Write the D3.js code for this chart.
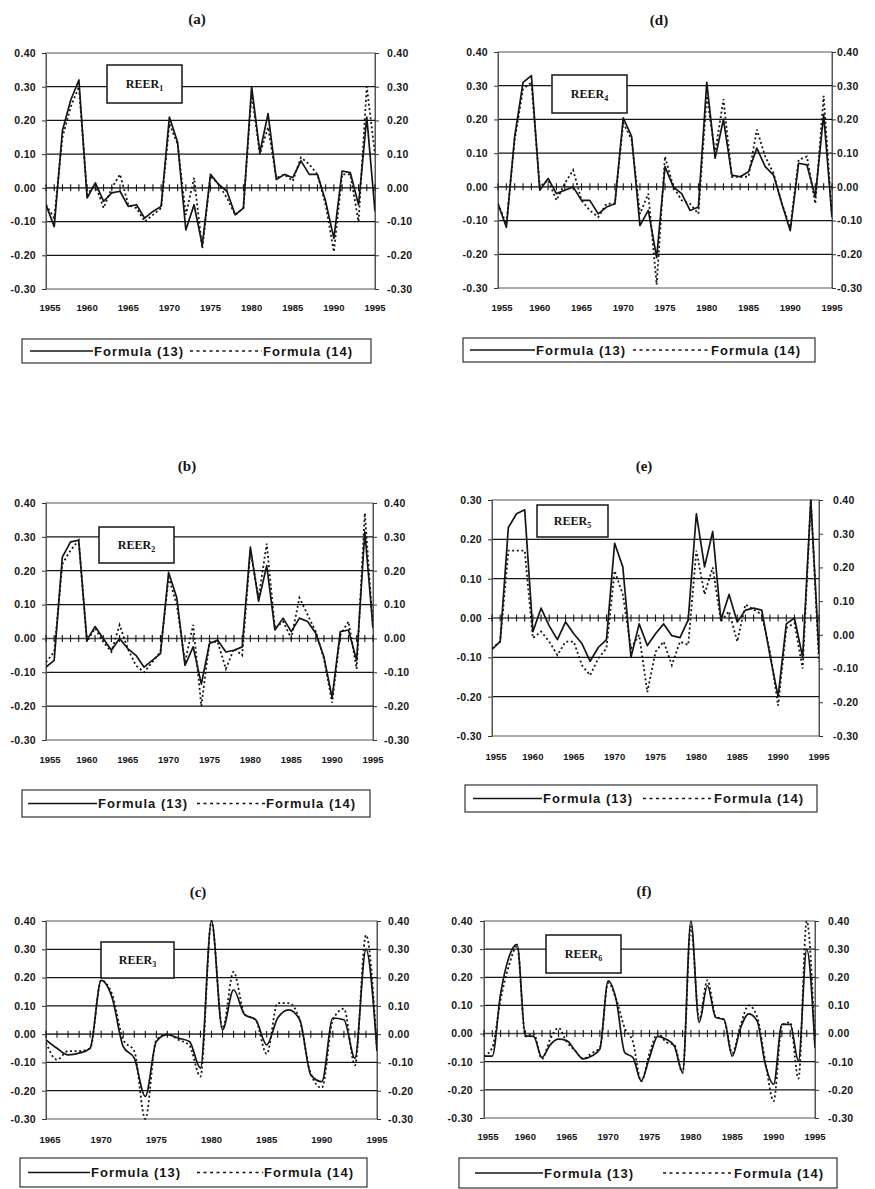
<!DOCTYPE html>
<html><head><meta charset="utf-8">
<script src="https://cdn.jsdelivr.net/npm/d3@7"></script>
<style>
html,body{margin:0;padding:0;background:#fff;}
svg{display:block;}
</style></head>
<body>
<svg id="chart" width="875" height="1189"></svg>
<script>
// ---------- DATA ----------
const years = [1955,1956,1957,1958,1959,1960,1961,1962,1963,1964,1965,1966,1967,1968,1969,1970,1971,1972,1973,1974,1975,1976,1977,1978,1979,1980,1981,1982,1983,1984,1985,1986,1987,1988,1989,1990,1991,1992,1993,1994,1995];
const yearsC = [1965,1966,1967,1968,1969,1970,1971,1972,1973,1974,1975,1976,1977,1978,1979,1980,1981,1982,1983,1984,1985,1986,1987,1988,1989,1990,1991,1992,1993,1994,1995];
const xTickYears = [1955,1960,1965,1970,1975,1980,1985,1990,1995];
const xTickYearsC = [1965,1970,1975,1980,1985,1990,1995];

const yTicks = [-0.3,-0.2,-0.1,0,0.1,0.2,0.3,0.4];
const yTickLabels = ["-0.30","-0.20","-0.10","0.00","0.10","0.20","0.30","0.40"];
const yTicksE = [-0.3,-0.2,-0.1,0,0.1,0.2,0.3];
const yTickLabelsE = ["-0.30","-0.20","-0.10","0.00","0.10","0.20","0.30"];

const a13 = [-0.05,-0.115,0.17,0.26,0.32,-0.03,0.015,-0.04,-0.015,-0.01,-0.055,-0.05,-0.09,-0.07,-0.055,0.21,0.135,-0.125,-0.05,-0.17,0.04,0.01,-0.01,-0.08,-0.06,0.30,0.105,0.22,0.025,0.04,0.03,0.08,0.04,0.04,-0.04,-0.15,0.05,0.045,-0.05,0.21,-0.07];
const a14 = [-0.05,-0.09,0.15,0.24,0.30,-0.02,0.01,-0.06,0.0,0.04,-0.05,-0.06,-0.10,-0.08,-0.06,0.19,0.13,-0.08,0.03,-0.18,0.035,0.01,-0.03,-0.08,-0.06,0.28,0.10,0.18,0.03,0.04,0.02,0.09,0.07,0.04,-0.05,-0.19,0.04,0.04,-0.10,0.30,0.10];
const b13 = [-0.085,-0.065,0.24,0.285,0.29,-0.005,0.035,0.0,-0.035,0.0,-0.03,-0.05,-0.085,-0.065,-0.045,0.195,0.12,-0.08,-0.025,-0.135,-0.015,-0.005,-0.04,-0.035,-0.025,0.27,0.11,0.215,0.025,0.06,0.02,0.06,0.05,0.015,-0.055,-0.175,0.02,0.025,-0.065,0.315,0.03];
const b14 = [-0.07,-0.04,0.22,0.26,0.29,-0.01,0.03,-0.01,-0.04,0.04,-0.03,-0.08,-0.10,-0.07,-0.04,0.18,0.10,-0.07,0.04,-0.20,-0.01,-0.01,-0.09,-0.03,-0.05,0.26,0.12,0.28,0.03,0.05,0.0,0.12,0.07,0.02,-0.06,-0.19,0.01,0.05,-0.09,0.37,0.03];
const c13 = [-0.02,-0.05,-0.073,-0.067,-0.05,0.19,0.128,-0.044,-0.085,-0.22,-0.026,-0.002,-0.014,-0.026,-0.12,0.40,0.015,0.157,0.069,0.051,-0.038,0.057,0.086,0.051,-0.144,-0.168,0.057,0.051,-0.085,0.30,-0.06];
const c14 = [-0.03,-0.09,-0.06,-0.06,-0.05,0.19,0.14,-0.02,-0.06,-0.30,-0.02,0.0,-0.02,-0.04,-0.15,0.40,0.02,0.22,0.07,0.05,-0.07,0.11,0.11,0.05,-0.14,-0.19,0.05,0.09,-0.11,0.35,-0.06];
const d13 = [-0.05,-0.12,0.15,0.31,0.33,-0.01,0.025,-0.02,-0.01,0.0,-0.04,-0.04,-0.08,-0.06,-0.05,0.205,0.15,-0.115,-0.07,-0.21,0.06,0.0,-0.02,-0.07,-0.06,0.31,0.085,0.20,0.035,0.03,0.045,0.115,0.06,0.035,-0.05,-0.13,0.07,0.065,-0.03,0.215,-0.09];
const d14 = [-0.05,-0.11,0.14,0.29,0.31,0.0,0.02,-0.04,0.01,0.05,-0.04,-0.07,-0.09,-0.05,-0.05,0.19,0.14,-0.08,-0.02,-0.29,0.09,0.0,-0.04,-0.05,-0.08,0.27,0.10,0.26,0.03,0.03,0.03,0.17,0.09,0.04,-0.05,-0.12,0.08,0.09,-0.05,0.27,-0.09];
const e13 = [-0.08,-0.06,0.23,0.265,0.275,-0.035,0.025,-0.02,-0.055,-0.01,-0.04,-0.065,-0.11,-0.075,-0.055,0.19,0.13,-0.10,-0.015,-0.07,-0.04,-0.015,-0.045,-0.05,-0.005,0.265,0.13,0.22,-0.005,0.06,-0.01,0.02,0.025,0.02,-0.095,-0.20,-0.015,0.0,-0.10,0.30,-0.09];
const e14 = [-0.04,-0.02,0.25,0.25,0.25,-0.01,0.01,-0.02,-0.06,-0.02,-0.02,-0.09,-0.12,-0.07,-0.04,0.19,0.12,-0.04,0.0,-0.17,-0.05,-0.02,-0.09,-0.02,-0.03,0.25,0.12,0.20,0.04,0.07,-0.02,0.09,0.075,0.06,-0.05,-0.21,0.02,0.035,-0.10,0.40,-0.08];
const f13 = [-0.08,-0.08,0.14,0.27,0.317,-0.008,-0.01,-0.085,-0.04,-0.02,-0.025,-0.06,-0.09,-0.08,-0.055,0.187,0.116,-0.067,-0.085,-0.168,-0.085,-0.01,-0.02,-0.044,-0.138,0.40,0.04,0.17,0.057,0.05,-0.08,0.02,0.07,0.045,-0.11,-0.18,0.033,0.033,-0.097,0.30,-0.05];
const f14 = [-0.08,-0.05,0.12,0.24,0.31,-0.01,0.0,-0.09,-0.02,0.02,-0.03,-0.06,-0.09,-0.07,-0.05,0.18,0.12,0.02,-0.03,-0.17,-0.07,0.0,-0.03,-0.04,-0.14,0.38,0.05,0.19,0.06,0.05,-0.07,0.03,0.10,0.06,-0.10,-0.24,0.03,0.04,-0.16,0.40,-0.05];

const legendNames = ["Formula (13)","Formula (14)"];

// ---------- LAYOUT ----------
const panels = [
  {title:"(a)", tx:197, ty:24, x0:46, x1:375, y0:53, y1:289, lab:"REER", sub:"1", box:[107,65,182,103],
   lx:36, rx:387, xly:311, leg:[22,339,371,363, 30,93, 190,262], yrs:years, xt:xTickYears, s13:a13, s14:a14},
  {title:"(d)", tx:659, ty:25, x0:498, x1:832, y0:52, y1:288, lab:"REER", sub:"4", box:[552,75,627,113],
   lx:488, rx:837, xly:311, leg:[463,338,815,362, 470,535, 633,710], yrs:years, xt:xTickYears, s13:d13, s14:d14},
  {title:"(b)", tx:187, ty:471, x0:46, x1:373, y0:503, y1:740, lab:"REER", sub:"2", box:[99,527,174,563],
   lx:36, rx:384, xly:763, leg:[22,790,370,817, 28,97, 197,265], yrs:years, xt:xTickYears, s13:b13, s14:b14},
  {title:"(e)", tx:644, ty:471, x0:492, x1:819, y0:500, y1:736, lab:"REER", sub:"5", box:[537,505,608,537],
   lx:482, rx:833, xly:760, leg:[465,785,817,812, 473,542, 643,713], yrs:years, xt:xTickYears, s13:e13, s14:e14, split:true},
  {title:"(c)", tx:198, ty:897, x0:46, x1:377, y0:921, y1:1119, lab:"REER", sub:"3", box:[101,942,174,978],
   lx:36, rx:388, xly:1143, leg:[20,1158,367,1187, 28,90, 197,263], yrs:yearsC, xt:xTickYearsC, s13:c13, s14:c14, smooth:true},
  {title:"(f)", tx:644, ty:896, x0:484, x1:815, y0:921, y1:1118, lab:"REER", sub:"6", box:[546,935,621,973],
   lx:473, rx:828, xly:1140, leg:[459,1158,837,1188, 475,543, 663,733], yrs:years, xt:xTickYears, s13:f13, s14:f14, smooth:true}
];

const svg = d3.select("#chart");
const INK = "#151515";
const SANS = "'Liberation Sans', Arial, sans-serif";
const SERIF = "'Liberation Serif', 'Times New Roman', serif";

panels.forEach((p, pi) => {
  const g = svg.append("g");
  const x = d3.scaleLinear().domain([p.yrs[0], p.yrs[p.yrs.length-1]]).range([p.x0, p.x1]);
  const leftTicks = p.split ? yTicksE : yTicks;
  const leftLabels = p.split ? yTickLabelsE : yTickLabels;
  const yL = d3.scaleLinear().domain([leftTicks[0], leftTicks[leftTicks.length-1]]).range([p.y1, p.y0]);
  const yR = d3.scaleLinear().domain([yTicks[0], yTicks[yTicks.length-1]]).range([p.y1, p.y0]);

  // title
  g.append("text").attr("x", p.tx).attr("y", p.ty).attr("text-anchor","middle")
    .attr("font-family", SERIF).attr("font-weight","bold").attr("font-size", 15).attr("fill", INK)
    .text(p.title);

  // plot border
  g.append("rect").attr("x", p.x0).attr("y", p.y0).attr("width", p.x1-p.x0).attr("height", p.y1-p.y0)
    .attr("fill","none").attr("stroke","#555").attr("stroke-width",1);

  // gridlines (left scale, interior)
  g.selectAll(".grid").data(leftTicks.filter((t,i)=> i>0 && i<leftTicks.length-1 && t!==0)).enter()
    .append("line").attr("x1", p.x0).attr("x2", p.x1)
    .attr("y1", d=>yL(d)).attr("y2", d=>yL(d))
    .attr("stroke", INK).attr("stroke-width", 1.3);

  // left axis
  const ax = d3.axisLeft(yL).tickValues(leftTicks).tickSize(4)
    .tickFormat((d,i)=>leftLabels[i]);
  const gl = g.append("g").attr("transform", `translate(${p.x0},0)`).call(ax);
  gl.select(".domain").attr("stroke","#555");
  gl.selectAll(".tick line").attr("stroke","#333");
  gl.selectAll(".tick text").attr("x", p.lx - p.x0).attr("text-anchor","end")
    .attr("font-family", SANS).attr("font-weight","bold").attr("font-size", 10.5)
    .attr("letter-spacing", 0.3).attr("fill", INK);

  // right axis
  const axr = d3.axisRight(yR).tickValues(yTicks).tickSize(4)
    .tickFormat((d,i)=>yTickLabels[i]);
  const gr = g.append("g").attr("transform", `translate(${p.x1},0)`).call(axr);
  gr.select(".domain").attr("stroke","#555");
  gr.selectAll(".tick line").attr("stroke","#333");
  gr.selectAll(".tick text").attr("x", p.rx - p.x1).attr("text-anchor","start")
    .attr("font-family", SANS).attr("font-weight","bold").attr("font-size", 10.5)
    .attr("letter-spacing", 0.3).attr("fill", INK);

  // zero line with yearly ticks
  const z = yL(0);
  g.append("line").attr("x1", p.x0).attr("x2", p.x1).attr("y1", z).attr("y2", z)
    .attr("stroke", "#444").attr("stroke-width", 1.6);
  g.selectAll(".ztick").data(p.yrs).enter().append("line")
    .attr("x1", d=>x(d)).attr("x2", d=>x(d)).attr("y1", z-3.5).attr("y2", z+3.5)
    .attr("stroke", INK).attr("stroke-width", 1.1);

  // x labels
  g.selectAll(".xl").data(p.xt).enter().append("text")
    .attr("x", d=>x(d)+ (d===p.yrs[0]?4:0)).attr("y", p.xly).attr("text-anchor","middle")
    .attr("font-family", SANS).attr("font-weight","bold").attr("font-size", 9.5)
    .attr("fill", INK).text(d=>d);

  // series
  const curve = p.smooth ? d3.curveMonotoneX : d3.curveLinear;
  const clipId = "clip"+pi;
  svg.append("clipPath").attr("id", clipId).append("rect")
    .attr("x", p.x0).attr("y", p.y0-1).attr("width", p.x1-p.x0).attr("height", p.y1-p.y0+2);
  const lineL = d3.line().x((d,i)=>x(p.yrs[i])).y(d=>yL(d)).curve(curve);
  const lineR = d3.line().x((d,i)=>x(p.yrs[i])).y(d=>(p.split? yR(d) : yL(d))).curve(curve);
  g.append("path").datum(p.s14).attr("d", lineR).attr("clip-path",`url(#${clipId})`)
    .attr("fill","none").attr("stroke", INK).attr("stroke-width", 1.8).attr("stroke-dasharray","2,2.6");
  g.append("path").datum(p.s13).attr("d", lineL).attr("clip-path",`url(#${clipId})`)
    .attr("fill","none").attr("stroke", INK).attr("stroke-width", 1.7).attr("stroke-linejoin","round");

  // REER label box
  const [bx0,by0,bx1,by1] = p.box;
  g.append("rect").attr("x", bx0).attr("y", by0).attr("width", bx1-bx0).attr("height", by1-by0)
    .attr("fill","#fff").attr("stroke", INK).attr("stroke-width", 1.5);
  const t = g.append("text").attr("x", (bx0+bx1)/2).attr("y", (by0+by1)/2 + 4).attr("text-anchor","middle")
    .attr("font-family", SERIF).attr("font-weight","bold").attr("font-size", 12).attr("fill", INK);
  t.append("tspan").text(p.lab);
  t.append("tspan").attr("font-size", 8).attr("dy", 3).text(p.sub);

  // legend
  const L = p.leg;
  g.append("rect").attr("x", L[0]).attr("y", L[1]).attr("width", L[2]-L[0]).attr("height", L[3]-L[1])
    .attr("fill","#fff").attr("stroke","#333").attr("stroke-width",1.2);
  const ly = (L[1]+L[3])/2;
  g.append("line").attr("x1", L[4]).attr("x2", L[5]).attr("y1", ly).attr("y2", ly)
    .attr("stroke", INK).attr("stroke-width", 1.6);
  g.append("line").attr("x1", L[6]).attr("x2", L[7]).attr("y1", ly).attr("y2", ly)
    .attr("stroke", INK).attr("stroke-width", 1.6).attr("stroke-dasharray","3,3.5");
  [[L[5], legendNames[0]], [L[7], legendNames[1]]].forEach(([lx, name]) => {
    g.append("text").attr("x", lx+1).attr("y", ly+4.5)
      .attr("font-family", SANS).attr("font-weight","bold").attr("font-size", 13)
      .attr("textLength", 89).attr("lengthAdjust","spacing")
      .attr("fill", INK).text(name);
  });
});
</script>
</body></html>
